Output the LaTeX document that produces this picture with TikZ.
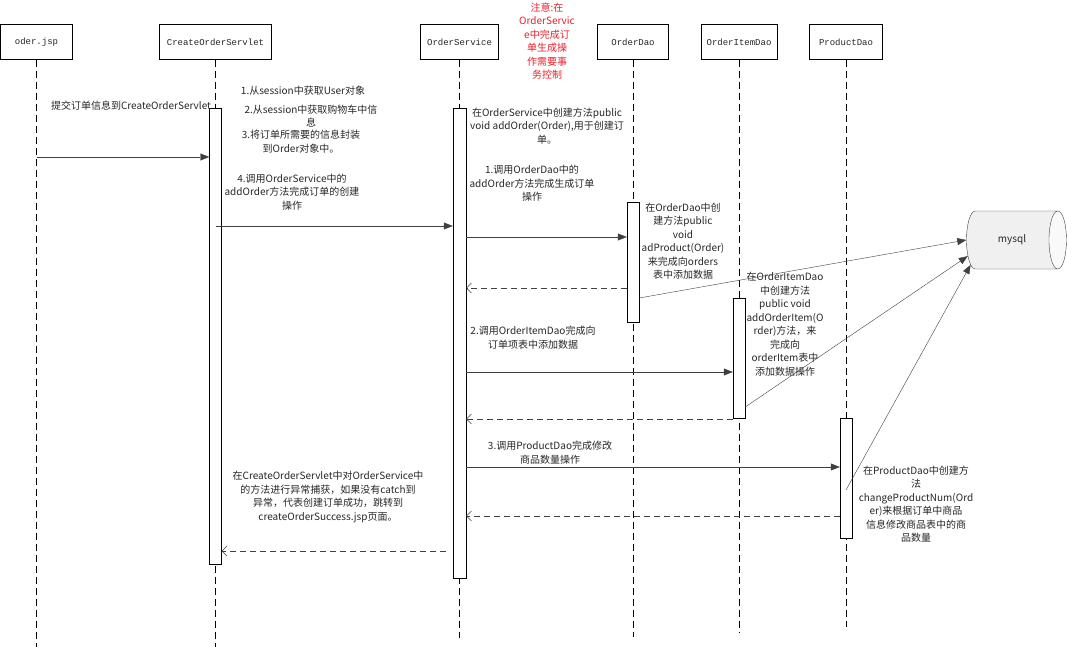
\documentclass[tikz,border=0pt]{standalone}
\usepackage{fontspec}
\setmonofont{Liberation Mono}
\newfontfamily\cjk{Noto Sans CJK SC}
\usepackage{xcolor}
\usetikzlibrary{arrows.meta,shapes.geometric}
\definecolor{linegray}{HTML}{404040}
\definecolor{notered}{HTML}{E8202A}

\begin{document}
\begin{tikzpicture}[x=1pt, y=-1pt,
  every node/.style={font=\cjk\fontsize{10}{13.5}\selectfont, text=black!85, inner sep=0pt, align=center},
  headbox/.style={draw=black, fill=white, minimum height=35pt, font=\ttfamily\fontsize{9}{10}\selectfont},
  actbox/.style={draw=black, fill=white, minimum width=12pt},
  life/.style={draw=black, dash pattern=on 7pt off 4pt},
  call/.style={draw=linegray, -{Triangle[length=9pt,width=7pt]}},
  reply/.style={draw=linegray, dash pattern=on 6pt off 4pt, -{Straight Barb[length=5pt,width=10pt]}}]
\useasboundingbox (0,0) rectangle (1067,647);
% Headers
\node[headbox, minimum width=72pt] (jsp) at (36.5,42) {oder.jsp};
\node[headbox, minimum width=112pt] (servlet) at (215.5,42) {CreateOrderServlet};
\node[headbox, minimum width=78pt] (service) at (459.5,42) {OrderService};
\node[headbox, minimum width=71pt] (orderdao) at (633,42) {OrderDao};
\node[headbox, minimum width=76pt] (itemdao) at (739,42) {OrderItemDao};
\node[headbox, minimum width=73pt] (productdao) at (846,42) {ProductDao};
% Lifelines
\coordinate (jspend) at (36.5,647);
\coordinate (servletend) at (215.5,647);
\coordinate (serviceend) at (459.5,638);
\coordinate (orderdaoend) at (633,637);
\coordinate (itemdaoend) at (739,632);
\coordinate (productdaoend) at (846,627);
\draw[life] (jsp.south) -- (jspend);
\draw[life] (servlet.south) -- (servletend);
\draw[life] (service.south) -- (serviceend);
\draw[life] (orderdao.south) -- (orderdaoend);
\draw[life] (itemdao.south) -- (itemdaoend);
\draw[life] (productdao.south) -- (productdaoend);
% Activations
\node[actbox, minimum height=456pt] (actservlet) at (215.5,336) {};
\node[actbox, minimum height=470pt, minimum width=13pt] (actservice) at (459.5,343) {};
\node[actbox, minimum height=120pt] (actorderdao) at (633,262) {};
\node[actbox, minimum height=120pt] (actitemdao) at (739,358) {};
\node[actbox, minimum height=120pt] (actproductdao) at (846,478) {};
% Database
\node[cylinder, draw=linegray, shape aspect=1.7, minimum width=58pt, minimum height=100pt,
  cylinder uses custom fill, cylinder body fill=gray!12, cylinder end fill=gray!5] (mysql) at (1012,240) {mysql};
% Notes
\node[text=notered] (txnote) at (547,41) {注意:在\\OrderServic\\e中完成订\\单生成操\\作需要事\\务控制};
\node (submit) at (131,106) {提交订单信息到CreateOrderServlet};
\node (step1) at (303,91) {1.从session中获取User对象};
\node (step2) at (311,116) {2.从session中获取购物车中信\\息};
\node (step3) at (301,141.5) {3.将订单所需要的信息封装\\到Order对象中。};
\node (step4) at (292,192) {4.调用OrderService中的\\addOrder方法完成订单的创建\\操作};
\node (servicetext) at (547,126) {在OrderService中创建方法public\\void addOrder(Order),用于创建订\\单。};
\node (call1) at (532,183.5) {1.调用OrderDao中的\\addOrder方法完成生成订单\\操作};
\node (orderdaotext) at (683,241) {在OrderDao中创\\建方法public\\void\\adProduct(Order)\\来完成向orders\\表中添加数据};
\node (call2) at (533,337.5) {2.调用OrderItemDao完成向\\订单项表中添加数据};
\node (itemdaotext) at (785,324) {在OrderItemDao\\中创建方法\\public void\\addOrderItem(O\\rder)方法，来\\完成向\\orderItem表中\\添加数据操作};
\node (call3) at (550,452.5) {3.调用ProductDao完成修改\\商品数量操作};
\node (catchtext) at (328,497) {在CreateOrderServlet中对OrderService中\\的方法进行异常捕获，如果没有catch到\\异常，代表创建订单成功，跳转到\\createOrderSuccess.jsp页面。};
\node (productdaotext) at (916,504) {在ProductDao中创建方\\法\\changeProductNum(Ord\\er)来根据订单中商品\\信息修改商品表中的商\\品数量};
% Messages
\coordinate (m1) at (0,157);
\coordinate (m2) at (0,226);
\coordinate (m3) at (0,237);
\coordinate (r1) at (0,288);
\coordinate (m4) at (0,372);
\coordinate (r2) at (0,419);
\coordinate (m5) at (0,467);
\coordinate (r3) at (0,516);
\coordinate (r4) at (0,551);
\draw[call] (jsp |- m1) -- (actservlet.west |- m1);
\draw[call] (actservlet |- m2) -- (actservice.west |- m2);
\draw[call] (actservice.east |- m3) -- (actorderdao.west |- m3);
\draw[reply] (actorderdao.west |- r1) -- (actservice.east |- r1);
\draw[call] (actservice.east |- m4) -- (actitemdao.west |- m4);
\draw[reply] (actitemdao.west |- r2) -- (actservice.east |- r2);
\draw[call] (actservice.east |- m5) -- (actproductdao.west |- m5);
\draw[reply] (actproductdao.west |- r3) -- (actservice.east |- r3);
\draw[reply, shorten <=7pt] (actservice.west |- r4) -- (actservlet.east |- r4);
% To mysql
\coordinate (q1) at (0,298);
\coordinate (q2) at (0,407);
\coordinate (q3) at (0,490);
\draw[call] (actorderdao.east |- q1) -- (mysql.west);
\draw[call] (actitemdao.east |- q2) -- (mysql.200);
\draw[call] (actproductdao |- q3) -- (mysql.211);
\end{tikzpicture}
\end{document}
